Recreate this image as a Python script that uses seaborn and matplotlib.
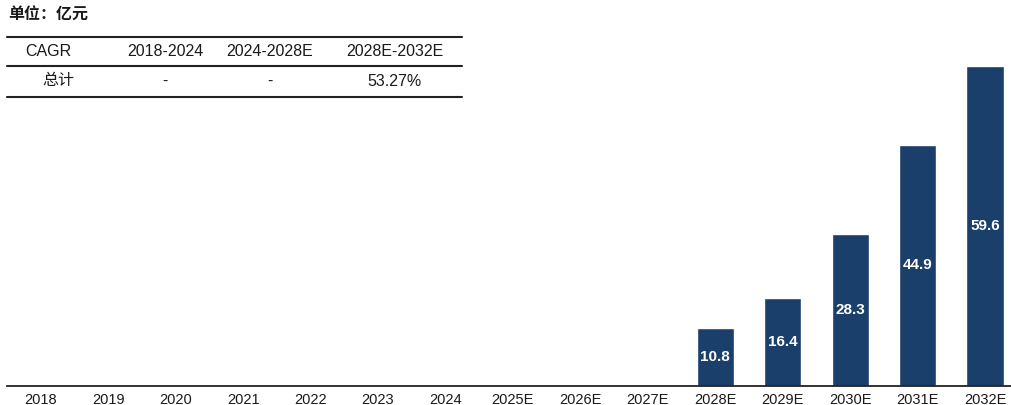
import numpy as np
import pandas as pd
import matplotlib.pyplot as plt
import seaborn as sns
from matplotlib.lines import Line2D

# data
years = ['2018', '2019', '2020', '2021', '2022', '2023', '2024',
         '2025E', '2026E', '2027E', '2028E', '2029E', '2030E', '2031E', '2032E']
values = [np.nan, np.nan, np.nan, np.nan, np.nan, np.nan, np.nan,
          np.nan, np.nan, np.nan, 10.8, 16.4, 28.3, 44.9, 59.6]
table_header = ['CAGR', '2018-2024', '2024-2028E', '2028E-2032E']
table_row = ['总计', '-', '-', '53.27%']
unit_text = '单位：亿元'

sns.set_style('white')
plt.rcParams['font.family'] = ['Liberation Sans', 'Noto Sans CJK SC', 'DejaVu Sans']
plt.rcParams['text.color'] = '#1a1a1a'
plt.rcParams['xtick.color'] = '#1a1a1a'

df = pd.DataFrame({'year': years, 'value': values})

fig = plt.figure(figsize=(10.12, 4.05), dpi=100)
ax = fig.add_axes([7 / 1012, 19 / 405, 1005 / 1012, 326 / 405])
sns.barplot(x='year', y='value', data=df, order=years, color='#1B3F6B',
            saturation=1, width=0.55, ax=ax)

for i, v in enumerate(values):
    if not np.isnan(v):
        ax.text(i, v / 2, f'{v:.1f}', ha='center', va='center', color='white',
                fontsize=11, fontweight='bold')

ax.set_xlim(-0.5, 14.4)
ax.set_ylim(0, 60.7)
ax.set_xlabel('')
ax.set_ylabel('')
ax.set_yticks([])
ax.tick_params(axis='x', length=0, labelsize=10.5, pad=5)
for s in ['top', 'right', 'left']:
    ax.spines[s].set_visible(False)
ax.spines['bottom'].set_color('#222222')
ax.spines['bottom'].set_linewidth(1.3)

# unit label
fig.text(8 / 1012, 1 - 15 / 405, unit_text, fontsize=11.5, fontweight='bold',
         family=['Noto Sans CJK SC', 'DejaVu Sans'], ha='left', va='center')

# CAGR table
for y in [37, 66, 97]:
    fig.add_artist(Line2D([7 / 1012, 462 / 1012], [1 - y / 405, 1 - y / 405],
                          color='#222222', linewidth=1.5))
col_x = [48, 165, 270, 395]
row_x = [58, 165, 270, 395]
for cx, t in zip(col_x, table_header):
    fig.text(cx / 1012, 1 - 51 / 405, t, ha='center', va='center', fontsize=11.5)
for cx, t in zip(row_x, table_row):
    fig.text(cx / 1012, 1 - 81 / 405, t, ha='center', va='center', fontsize=11.5)

fig.savefig('out.png', dpi=100)
